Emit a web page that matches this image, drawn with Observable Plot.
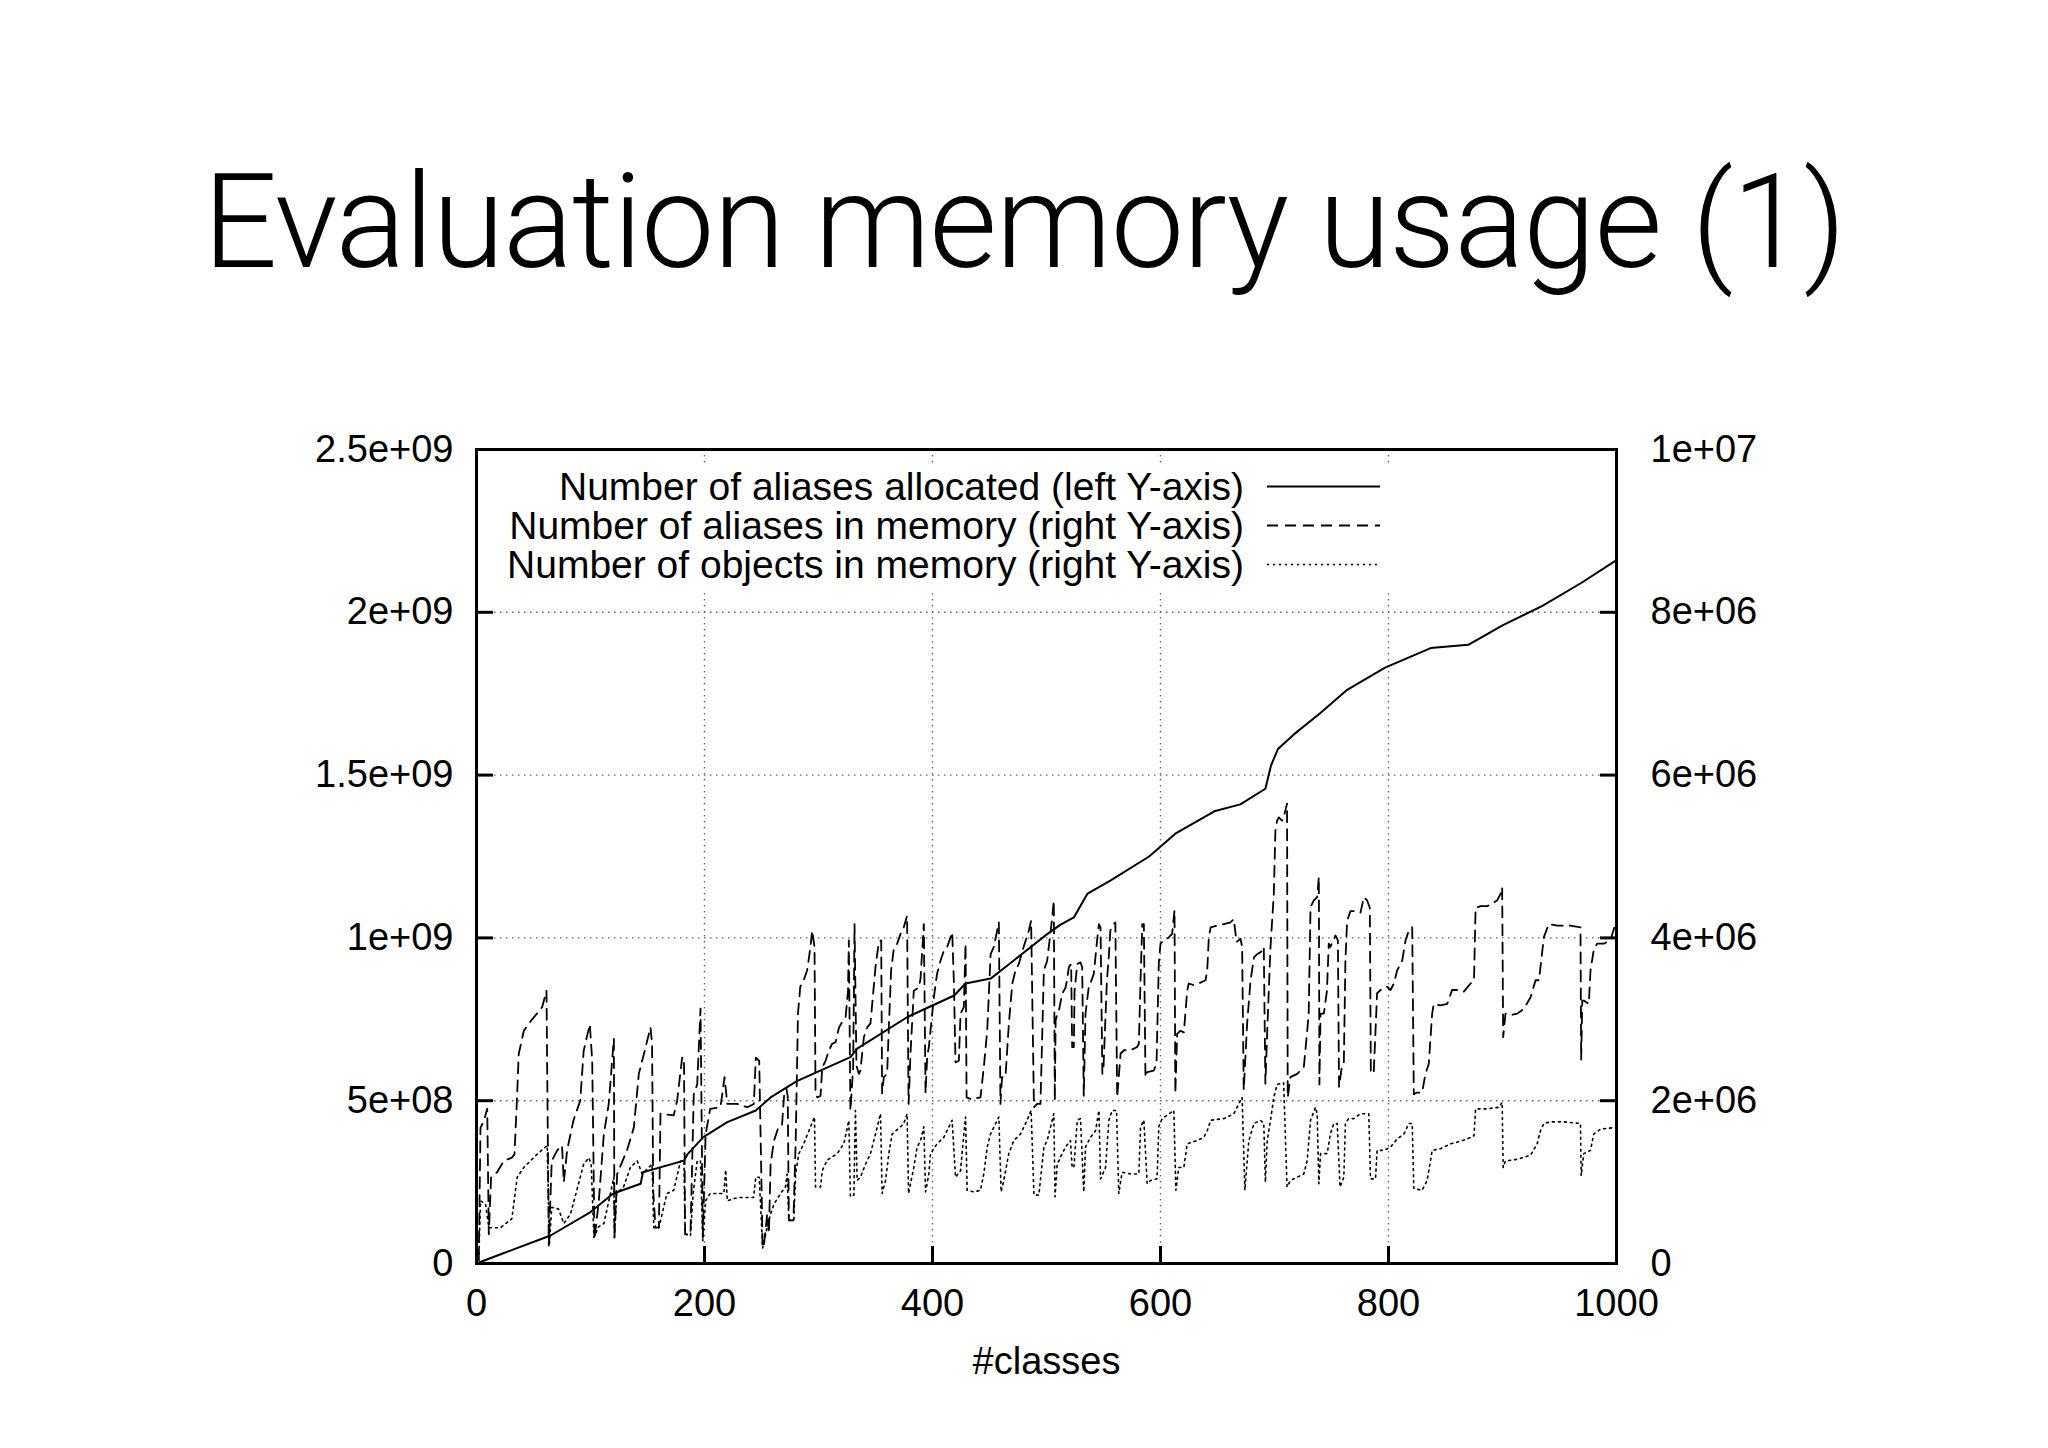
<!DOCTYPE html>
<html>
<head>
<meta charset="utf-8">
<script src="https://cdn.jsdelivr.net/npm/d3@7"></script>
<script src="https://cdn.jsdelivr.net/npm/@observablehq/plot@0.6"></script>
<style>
  html, body { margin: 0; padding: 0; background: #fff; }
  #page { position: relative; width: 2048px; height: 1448px; overflow: hidden; }
  #title { position: absolute; left: 0; top: 157px; width: 2048px; text-align: center;
           font-family: Roboto, "Liberation Sans", sans-serif; font-weight: 300;
           font-size: 131px; letter-spacing: -1.3px; line-height: 1; color: #000; white-space: nowrap; }
  #chart { position: absolute; left: 0; top: 380px; }
  #legendBox { position: absolute; left: 500px; top: 467px; width: 895px; height: 123px; background: #fff; }
  #legend { position: absolute; top: 0; right: 151px; text-align: right;
            font-family: "Liberation Sans", Arial, sans-serif; font-size: 39px; line-height: 39px; color: #000; white-space: nowrap; }
  #legendKeys { position: absolute; left: 767px; top: 0; }
</style>
</head>
<body>
<div id="page">
  <div id="title"></div>
  <div id="chart"></div>
  <div id="legendBox">
    <div id="legend"></div>
    <svg id="legendKeys" width="115" height="117"></svg>
  </div>
</div>
<script>
// ---------- text ----------
const titleText = "Evaluation memory usage (1)";
const xAxisLabel = "#classes";
const seriesNames = [
  "Number of aliases allocated (left Y-axis)",
  "Number of aliases in memory (right Y-axis)",
  "Number of objects in memory (right Y-axis)"
];

// ---------- ticks ----------
const xTicks = [0, 200, 400, 600, 800, 1000];
const xTickLabels = ["0", "200", "400", "600", "800", "1000"];
const yTicks = [0, 0.5, 1, 1.5, 2, 2.5];               // left axis, units of 1e9
const leftTickLabels = ["0", "5e+08", "1e+09", "1.5e+09", "2e+09", "2.5e+09"];
const rightTickLabels = ["0", "2e+06", "4e+06", "6e+06", "8e+06", "1e+07"];
const rightPerLeft = 2.5 / 10;                          // right axis (millions) -> left axis (billions)

// ---------- data: [#classes, value] ----------
// Number of aliases allocated (left axis, 1e9)
const aliasesAllocated = [
  [0,0],[20,0.027],[65,0.086],[100,0.158],[120,0.215],[144,0.245],[146,0.28],[182,0.316],[185,0.335],
  [199,0.388],[220,0.434],[245,0.47],[258,0.51],[281,0.56],[328,0.634],[334,0.66],[378,0.757],[419,0.823],
  [429,0.86],[451,0.875],[471,0.93],[500,1.01],[512,1.04],[524,1.063],[536,1.136],[556,1.176],[590,1.25],
  [613,1.32],[648,1.39],[670,1.41],[692,1.458],[697,1.53],[703,1.58],[717,1.625],[740,1.69],[763,1.76],
  [797,1.83],[837,1.89],[870,1.90],[900,1.96],[935,2.02],[969,2.09],[1000,2.16]
];

// Number of aliases in memory (right axis, millions)
const aliasesInMemory = [
  [2,0.04],[3.5,1.67],[6.4,1.75],[9.4,1.9],[10.8,0.36],[12.8,1.06],[18,1.12],[24,1.26],[31,1.3],[33.3,1.34],
  [35.7,2.08],[37,2.57],[41.5,2.86],[48.8,3.0],[53,3.07],[57.6,3.15],[61.4,3.35],[63.4,0.22],[66,1.26],
  [70.8,1.39],[75,1.45],[76.6,1.0],[79.5,1.39],[85,1.755],[91,2.0],[94,2.61],[99.4,2.94],[101.5,2.49],
  [103.5,0.3],[107.3,0.77],[111.7,1.59],[116,1.96],[120.5,2.76],[121,0.32],[123.4,1.1],[132,1.39],[138,1.67],
  [142.4,2.33],[146.8,2.57],[152.6,2.9],[154,2.7],[155,0.9],[157,0.44],[160,0.44],[161.4,1.84],[173,1.82],
  [176,2.0],[180.4,2.53],[182,2.53],[183,0.36],[187.7,0.36],[190.6,2.08],[193.6,2.2],[196.5,3.13],[198.5,0.32],
  [201,1.59],[205,1.9],[214,1.92],[217.6,2.29],[220,1.96],[228.8,1.96],[237.5,1.92],[243.3,1.96],[245,2.53],
  [248,2.49],[251,0.2],[252,0.2],[255,0.61],[256.5,0.37],[258,1.225],[261,1.51],[265,1.68],[268,1.7],
  [270,2.1],[272,2.14],[273,2.05],[274,0.53],[278,0.53],[280,1.5],[282,3.07],[284,3.4],[287,3.48],[290,3.6],
  [293,3.89],[294.4,4.09],[296.5,3.89],[297.4,2.09],[299,2.04],[301.8,2.06],[303.3,2.41],[306.2,2.49],
  [309.2,2.62],[312,2.7],[315,2.72],[318,2.9],[320.9,2.97],[323.8,3.03],[325.9,3.35],[326.6,3.97],[328,1.88],
  [330.4,2.41],[331.6,4.17],[333.3,2.43],[335.4,2.33],[336.8,2.37],[338.3,2.58],[339.8,2.78],[342.7,2.9],
  [345.6,2.95],[350,3.64],[352.9,3.95],[355,3.97],[355.8,2.09],[357.3,2.29],[360.2,2.33],[361.7,2.9],
  [363.7,3.6],[366,3.86],[369,3.93],[372,4.05],[374.8,4.13],[377.7,4.27],[379,1.96],[380.7,2.58],[383.6,3.35],
  [388,3.39],[389.5,3.5],[392.4,4.17],[393.9,2.09],[395.3,2.53],[396.8,2.66],[401.2,3.27],[404,3.56],
  [407,3.72],[409.9,3.84],[412.9,3.89],[417.3,4.07],[418.7,3.48],[420.2,2.47],[423.1,2.49],[424.6,3.07],
  [427.5,3.15],[429,3.93],[429.9,2.04],[433.4,2.02],[442.1,2.04],[445,2.41],[448,2.86],[451,3.8],[453.8,3.89],
  [458.2,4.19],[459.6,1.96],[461,2.29],[464,2.29],[467,2.95],[470,3.44],[472.8,3.6],[475.7,3.68],[480,3.89],
  [484.5,4.09],[486.5,4.21],[489,1.92],[491.8,1.96],[494.7,1.96],[497.7,3.6],[500.6,3.72],[505,4.25],
  [506.4,4.46],[507.3,2.0],[508,2.98],[509.4,3.07],[510.8,3.1],[513.7,3.31],[516.7,3.39],[518,3.48],
  [519.6,3.64],[521.6,3.68],[522.5,2.66],[524,2.66],[524.6,3.35],[527,3.68],[529.8,3.7],[531.3,3.64],
  [532.7,2.06],[534.2,3.07],[537,3.39],[540,3.5],[541.5,3.56],[544.4,3.97],[546,4.17],[547.4,4.13],[549,2.33],
  [550,2.41],[553,3.48],[554.6,3.76],[556,4.09],[559,4.17],[560.4,4.19],[562,2.04],[565,2.58],[568,2.62],
  [573.7,2.62],[579.5,2.66],[581,2.7],[582.5,3.48],[584,4.17],[585.4,4.17],[586.8,2.29],[588.3,2.35],
  [594,2.37],[596.5,2.45],[598.5,3.68],[600,3.93],[603,3.97],[606,3.99],[610.2,4.05],[612.3,4.34],[613,2.09],
  [614.6,2.82],[617.5,2.86],[620.5,2.84],[623.4,3.35],[624.8,3.44],[629.2,3.42],[633.6,3.44],[639.5,3.48],
  [641,3.6],[642.4,4.01],[644,4.13],[649.7,4.15],[655.6,4.17],[661.4,4.19],[664.3,4.23],[666.7,3.95],
  [670.2,3.99],[671.6,3.89],[673,2.13],[676,2.95],[679,3.48],[682,3.76],[684.8,3.8],[689.2,3.84],[690.6,3.89],
  [692,2.21],[694,3.0],[696.5,3.89],[699.4,4.54],[700.8,5.32],[702.3,5.44],[703.7,5.48],[706.6,5.44],
  [708,5.48],[709.6,5.57],[711,5.65],[711.6,2.04],[714,2.29],[719.9,2.33],[725.7,2.41],[728.7,2.86],
  [730,3.07],[731.6,4.38],[734.5,4.46],[737.4,4.5],[738.9,4.75],[739.4,2.2],[740.4,3.07],[743.3,3.07],
  [746,3.35],[747.6,3.93],[749,3.89],[753.5,4.03],[755.6,3.97],[756.6,2.17],[759,2.41],[760.8,2.45],
  [762.2,3.72],[763.7,4.21],[766.7,4.33],[769.6,4.33],[775.4,4.31],[778.4,4.5],[781.3,4.46],[783.6,4.37],
  [784.5,2.37],[787,2.33],[790,3.32],[793,3.36],[798.8,3.4],[801.8,3.36],[804.7,3.44],[807.6,3.6],[812,3.72],
  [815,3.97],[817.8,4.09],[820.8,4.13],[822.2,2.08],[825,2.1],[829.5,2.1],[832.4,2.33],[835.3,2.45],
  [838.3,3.07],[839.7,3.19],[845.6,3.17],[851.5,3.19],[855.8,3.36],[860.2,3.36],[866,3.34],[872,3.44],
  [875,3.48],[876.4,4.37],[880.8,4.39],[886.6,4.39],[895.3,4.46],[898.3,4.54],[899.7,4.62],[900.6,2.78],
  [902.6,3.07],[907,3.05],[913,3.07],[918.8,3.13],[924.6,3.27],[929,3.48],[932,3.48],[933.3,3.64],
  [936.3,4.01],[940.6,4.17],[948,4.15],[959.6,4.15],[968.4,4.13],[969,2.5],[970,3.23],[971.3,3.23],
  [975.7,3.19],[977.2,3.6],[980,3.85],[983,3.93],[988.9,3.93],[994.7,3.97],[999,4.17],[1000,4.16]
];

// Number of objects in memory (right axis, millions)
const objectsInMemory = [
  [2,0.04],[3.5,0.77],[8,0.73],[10.8,0.44],[21,0.44],[31,0.55],[35.7,1.06],[41.5,1.18],[53,1.34],[62,1.45],
  [64,0.24],[66,0.69],[72,0.67],[76.6,0.49],[82.5,0.61],[88,0.9],[94,1.22],[98.5,1.3],[100.6,1.22],[103,0.32],
  [107,0.45],[111.7,0.49],[117.5,0.86],[120.5,1.06],[121,0.32],[123,0.86],[129,0.94],[135,1.18],[141,1.26],
  [145.3,1.1],[154,1.22],[155.5,0.44],[160,0.44],[167,0.86],[173,0.9],[179,1.26],[182,1.26],[183,0.36],
  [187.7,0.34],[190,0.86],[193.6,1.26],[196.5,1.26],[198.5,0.28],[201,0.77],[205,0.86],[217,0.86],
  [218.6,1.15],[220,0.77],[228.8,0.81],[243,0.81],[245,1.06],[248,1.06],[251,0.19],[255,0.45],[258,0.61],
  [261,0.73],[266.7,0.86],[271,0.94],[272.5,1.1],[274,0.53],[278.4,0.53],[279.9,1.1],[282.8,1.35],[287,1.47],
  [293,1.68],[296.5,1.8],[297.4,0.94],[301.8,0.94],[303.3,1.14],[307.6,1.27],[316.4,1.35],[322.2,1.47],
  [326.6,1.757],[328,0.82],[331,0.84],[332.4,1.88],[333.9,1.02],[336.8,1.06],[341.2,1.22],[345.6,1.35],
  [350,1.59],[354.4,1.84],[355.8,0.86],[358.8,1.02],[361.7,1.35],[364.6,1.59],[372,1.68],[374.8,1.72],
  [377.7,1.84],[379,0.86],[383.6,1.18],[386.5,1.43],[389.5,1.51],[392.4,1.68],[393.9,0.88],[396.8,1.1],
  [398.2,1.35],[404,1.47],[409.9,1.55],[417.2,1.76],[420.2,1.06],[424.6,1.14],[427.5,1.59],[429,1.8],
  [430.4,0.9],[436.3,0.88],[442.1,0.9],[445,1.1],[448,1.43],[450.9,1.59],[458.2,1.8],[460.2,0.88],[462.5,1.02],
  [466.9,1.35],[471.3,1.51],[477.2,1.59],[483,1.76],[486.5,1.88],[489,0.84],[493.3,0.84],[497.7,1.43],
  [500.6,1.51],[506.4,1.84],[507.5,0.82],[509.4,1.22],[513.7,1.35],[516.7,1.43],[521,1.51],[522.5,1.18],
  [524,1.18],[527,1.76],[529.8,1.78],[532.7,0.88],[534.2,1.43],[538.6,1.55],[543,1.63],[546,1.88],[547.4,1.04],
  [551.8,1.18],[554.7,1.76],[557.6,1.88],[561.4,1.88],[563.4,0.86],[566.3,1.12],[573.7,1.1],[581,1.1],
  [582.5,1.68],[585.4,1.76],[588.3,0.98],[591.2,1.02],[597,1.04],[598.5,1.68],[601.5,1.78],[611.7,1.88],
  [613.5,0.9],[616,1.18],[620.5,1.18],[623.4,1.47],[632,1.51],[638,1.55],[641,1.63],[644,1.76],[655.6,1.78],
  [664.3,1.84],[671.6,2.04],[674,0.9],[677.5,1.51],[682,1.72],[687.7,1.76],[690.6,1.72],[692,1.0],[693.6,1.51],
  [696.5,1.76],[699.4,2.04],[702.3,2.2],[708,2.22],[711,0.94],[714,1.02],[719.9,1.06],[725.7,1.1],[728.7,1.27],
  [731.6,1.76],[736,1.92],[737.4,1.84],[738.9,0.98],[740.4,1.35],[746.2,1.35],[749,1.59],[752,1.72],[755,1.72],
  [757.5,0.94],[760.8,1.06],[762.2,1.72],[765,1.78],[769.6,1.78],[775.4,1.84],[782.7,1.84],[784.2,1.04],
  [788.6,1.04],[790,1.39],[796,1.39],[801.8,1.43],[807.6,1.53],[813.5,1.59],[817.8,1.72],[820.8,1.72],
  [822.2,0.92],[829.5,0.9],[833.9,1.02],[836.8,1.26],[838.3,1.39],[845.6,1.41],[854.4,1.47],[860.2,1.49],
  [869,1.53],[875,1.57],[876.4,1.9],[886.6,1.9],[896.8,1.92],[899.7,1.98],[900.6,1.18],[902.6,1.26],[913,1.28],
  [924.6,1.33],[930.4,1.47],[933.3,1.63],[936.3,1.72],[942,1.74],[953.8,1.74],[968.4,1.72],[969,1.08],
  [971.3,1.35],[977.2,1.39],[980,1.59],[986,1.65],[997.7,1.67],[1000,1.67]
];

// ---------- styles ----------
const dashPattern = "11,7";
const dotPattern = "2,4";
const fontFamily = "'Liberation Sans', Arial, sans-serif";
const tickFont = 38;

document.getElementById("title").textContent = titleText;

const gridStyle = {stroke: "#666", strokeOpacity: 1, strokeWidth: 1.4, strokeDasharray: "1.5,4.5"};

const chart = Plot.plot({
  width: 2048,
  height: 1068,
  marginTop: 69,
  marginBottom: 185,
  marginLeft: 476,
  marginRight: 432,
  style: {fontFamily, fontSize: tickFont + "px", color: "#000", background: "transparent"},
  x: {domain: [0, 1000]},
  y: {domain: [0, 2.5]},
  marks: [
    Plot.gridX({ticks: xTicks.slice(1, -1), ...gridStyle}),
    Plot.gridY({ticks: yTicks.slice(1, -1), ...gridStyle}),
    Plot.line(objectsInMemory, {x: d => d[0], y: d => d[1] * rightPerLeft, stroke: "#000", strokeWidth: 1.6, strokeDasharray: dotPattern}),
    Plot.line(aliasesInMemory, {x: d => d[0], y: d => d[1] * rightPerLeft, stroke: "#000", strokeWidth: 1.8, strokeDasharray: dashPattern}),
    Plot.line(aliasesAllocated, {x: d => d[0], y: d => d[1], stroke: "#000", strokeWidth: 2}),
    Plot.axisX({anchor: "bottom", ticks: xTicks, tickSize: -17, tickPadding: 43, strokeWidth: 3,
                tickFormat: d => xTickLabels[xTicks.indexOf(d)], label: null, fontSize: tickFont}),
    Plot.axisY({anchor: "left", ticks: yTicks, tickSize: -17, tickPadding: 40, strokeWidth: 3,
                tickFormat: d => leftTickLabels[yTicks.indexOf(d)], label: null, fontSize: tickFont}),
    Plot.axisY({anchor: "right", ticks: yTicks, tickSize: -17, tickPadding: 51, strokeWidth: 3,
                tickFormat: d => rightTickLabels[yTicks.indexOf(d)], label: null, fontSize: tickFont}),
    Plot.frame({stroke: "#000", strokeWidth: 3}),
    Plot.text([xAxisLabel], {frameAnchor: "bottom", dy: 98, text: d => d, fontSize: tickFont, lineAnchor: "middle"})
  ]
});
document.getElementById("chart").appendChild(chart);

// ---------- legend ----------
const legend = document.getElementById("legend");
seriesNames.forEach(n => { const div = document.createElement("div"); div.textContent = n; legend.appendChild(div); });
const keys = d3.select("#legendKeys");
const keyStyles = [null, dashPattern, dotPattern];
const keyWidths = [2, 1.8, 1.6];
keyStyles.forEach((dash, i) => {
  keys.append("line").attr("x1", 0).attr("x2", 113).attr("y1", 19.5 + 39 * i).attr("y2", 19.5 + 39 * i)
    .attr("stroke", "#000").attr("stroke-width", keyWidths[i]).attr("stroke-dasharray", dash);
});
</script>
</body>
</html>
